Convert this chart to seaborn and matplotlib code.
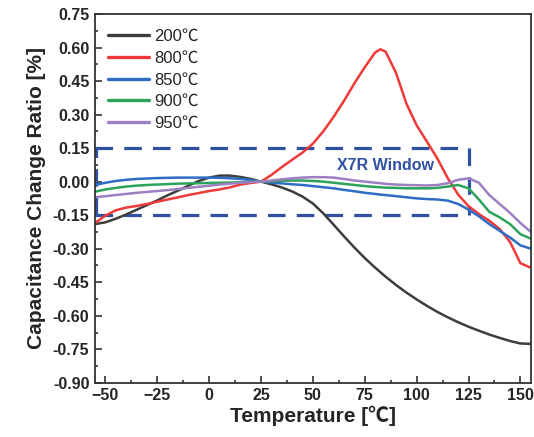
import numpy as np
import pandas as pd
import seaborn as sns
import matplotlib.pyplot as plt

# Données (température en °C, variation de capacité en %)
temperature = [-55, -50, -45, -40, -35, -30, -25, -20, -15, -10, -5, 0, 5, 10, 15, 20, 25,
               30, 35, 40, 45, 50, 55, 60, 65, 70, 75, 80, 82.5, 85, 90, 95, 100, 105, 110,
               115, 120, 125, 130, 135, 140, 145, 150, 155]

ratio_200 = [-0.19, -0.182, -0.166, -0.147, -0.126, -0.105, -0.084, -0.061, -0.04, -0.018, 0.003,
             0.018, 0.027, 0.027, 0.021, 0.012, 0.0, -0.012, -0.026, -0.044, -0.067, -0.098, -0.142,
             -0.193, -0.245, -0.295, -0.342, -0.385, -0.405, -0.425, -0.462, -0.496, -0.527, -0.556,
             -0.583, -0.607, -0.629, -0.649, -0.667, -0.684, -0.699, -0.713, -0.724, -0.726]

ratio_800 = [-0.185, -0.152, -0.128, -0.116, -0.109, -0.10, -0.09, -0.08, -0.07, -0.06, -0.051,
             -0.042, -0.035, -0.026, -0.013, -0.006, 0.0, 0.03, 0.065, 0.098, 0.13, 0.17, 0.225,
             0.29, 0.362, 0.44, 0.512, 0.578, 0.592, 0.582, 0.488, 0.35, 0.252, 0.178, 0.103, 0.015,
             -0.058, -0.11, -0.145, -0.175, -0.212, -0.27, -0.365, -0.385]

ratio_850 = [-0.015, -0.005, 0.003, 0.008, 0.012, 0.014, 0.016, 0.017, 0.018, 0.018, 0.018,
             0.018, 0.017, 0.015, 0.012, 0.007, 0.0, -0.004, -0.008, -0.012, -0.015, -0.02,
             -0.025, -0.03, -0.037, -0.043, -0.05, -0.055, -0.058, -0.06, -0.065, -0.07,
             -0.075, -0.078, -0.08, -0.085, -0.10, -0.125, -0.155, -0.19, -0.22, -0.25,
             -0.285, -0.30]

ratio_900 = [-0.045, -0.035, -0.028, -0.022, -0.018, -0.015, -0.013, -0.011, -0.009, -0.008,
             -0.007, -0.006, -0.005, -0.004, -0.003, -0.001, 0.0, 0.002, 0.004, 0.005, 0.005,
             0.003, 0.0, -0.005, -0.01, -0.015, -0.02, -0.024, -0.025, -0.027, -0.028, -0.03,
             -0.03, -0.03, -0.028, -0.022, -0.015, -0.03, -0.08, -0.135, -0.16, -0.19,
             -0.235, -0.255]

ratio_950 = [-0.07, -0.065, -0.06, -0.055, -0.05, -0.046, -0.042, -0.038, -0.033, -0.028,
             -0.023, -0.018, -0.013, -0.009, -0.005, -0.002, 0.0, 0.005, 0.01, 0.015, 0.018,
             0.02, 0.02, 0.018, 0.012, 0.005, 0.0, -0.005, -0.007, -0.01, -0.013, -0.015,
             -0.016, -0.017, -0.015, -0.007, 0.008, 0.015, -0.005, -0.06, -0.10, -0.14,
             -0.185, -0.225]

labels = ["200℃", "800℃", "850℃", "900℃", "950℃"]
couleurs = ["#3d3d3d", "#f03a3a", "#2f6cc4", "#2ca25a", "#9d7fc2"]

# Fenêtre X7R (±15 %)
x7r_bas, x7r_haut = -0.15, 0.15
x7r_fin = 125

# Mettre les données au format long pour seaborn
series = [ratio_200, ratio_800, ratio_850, ratio_900, ratio_950]
df = pd.concat([pd.DataFrame({"T": temperature, "ratio": s, "serie": lab})
                for s, lab in zip(series, labels)], ignore_index=True)

sns.set_theme(style="ticks")
plt.rcParams["font.family"] = ["Liberation Sans", "Noto Sans CJK SC", "DejaVu Sans"]
plt.rcParams["axes.unicode_minus"] = True

fig = plt.figure(figsize=(5.34, 4.37), dpi=100)
ax = fig.add_axes([0.178, 0.124, 0.816, 0.844])

sns.lineplot(data=df, x="T", y="ratio", hue="serie", hue_order=labels,
             palette=dict(zip(labels, couleurs)), sort=False, linewidth=1.8, ax=ax)
for ln in ax.get_lines():
    ln.set_solid_joinstyle("round")

# Rectangle pointillé de la fenêtre X7R
bleu = "#3050a2"
style = dict(color=bleu, linewidth=2.3, linestyle=(0, (5.5, 3.5)), zorder=1)
ax.plot([-55, x7r_fin], [x7r_haut, x7r_haut], **style)
ax.plot([-55, x7r_fin], [x7r_bas, x7r_bas], **style)
ax.plot([-54.6, -54.6], [x7r_bas, x7r_haut], **style)
ax.plot([x7r_fin, x7r_fin], [x7r_haut, x7r_bas], **style)
ax.text(85, 0.07, "X7R Window", color=bleu, fontsize=11.5, fontweight="bold",
        ha="center", va="center")

ax.set_xlim(-55, 155)
ax.set_ylim(-0.90, 0.75)
ax.set_xticks(np.arange(-50, 151, 25))
ax.set_yticks(np.arange(-0.90, 0.76, 0.15))
ax.set_xticks(np.arange(-37.5, 151, 25), minor=True)
ax.set_yticks(np.arange(-0.825, 0.75, 0.15), minor=True)
ax.yaxis.set_major_formatter(plt.FormatStrFormatter("%.2f"))

for s in ax.spines.values():
    s.set_color("#333333")
    s.set_linewidth(1.3)
ax.tick_params(which="both", direction="in", color="#333333", width=1.2)
ax.tick_params(which="major", length=5, labelsize=11.5, pad=4)
ax.tick_params(which="minor", length=2.5)
for lab in ax.get_xticklabels() + ax.get_yticklabels():
    lab.set_fontweight("bold")

ax.set_xlabel("Temperature [℃]", fontsize=15, fontweight="bold", labelpad=2)
ax.set_ylabel("Capacitance Change Ratio [%]", fontsize=15, fontweight="bold", labelpad=5)

leg = ax.legend(loc="upper left", frameon=False, fontsize=12, handlelength=2.45,
                labelspacing=0.4, handletextpad=0.3, borderaxespad=0.4,
                bbox_to_anchor=(0.0, 0.995))
for h in leg.get_lines():
    h.set_linewidth(2.4)

fig.savefig("out.png", dpi=100)
